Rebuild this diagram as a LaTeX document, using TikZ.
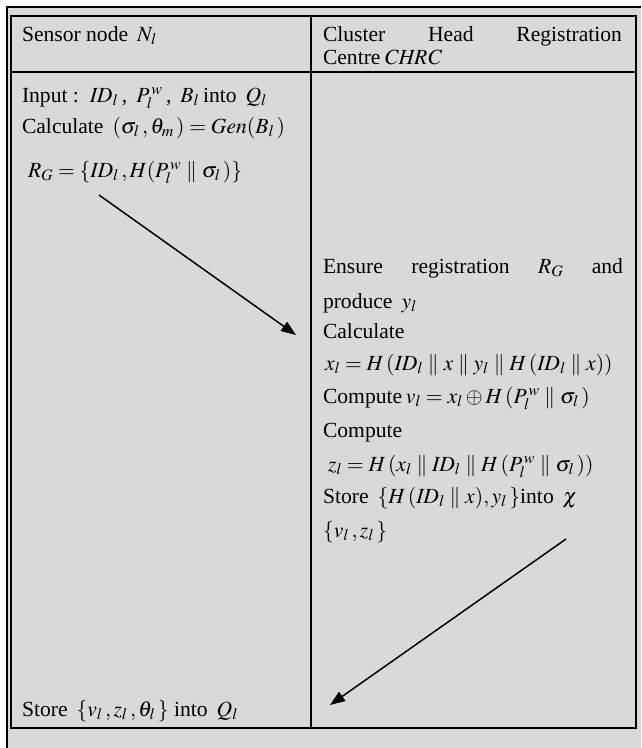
\documentclass[tikz,border=0pt]{standalone}
\usepackage{mathptmx}
\usepackage{fontspec}
\setmainfont{Liberation Serif}
\usetikzlibrary{arrows.meta, positioning}
\definecolor{cellgray}{HTML}{D9D9D9}
\definecolor{framegray}{HTML}{000000}

\begin{document}
\begin{tikzpicture}[
    x=1pt, y=-1pt,
    >=Stealth,
    frame/.style={draw=framegray, line width=1.6pt},
    line/.style={anchor=base west, inner sep=0pt, outer sep=0pt, font=\fontsize{21.6}{26}\selectfont},
    arrow/.style={-{Triangle[length=15pt, width=11pt]}, line width=1.5pt, shorten >=0pt},
]
\useasboundingbox (0,0) rectangle (641,748);

% Background and outer frame
\fill[cellgray] (7,7) rectangle (641,748);
\draw[frame] (641,7) -- (7,7) -- (7,748);

% Table
\draw[frame] (11,16) rectangle (636,728);
\draw[frame] (11,72) -- (636,72);
\draw[frame] (311,16) -- (311,728);

% Header row
\node[line] (hsensor) at (22,41) {Sensor node \,$N_l$};
\node[line] (hchrc1) at (323,41) {\makebox[299pt][s]{Cluster Head Registration}};
\node[line] (hchrc2) at (323,64) {Centre\,$\mathit{CHRC}$};

% Sensor node column
\node[line] (input) at (22,102) {Input : \,$\mathit{ID}_l$\,, \,$P_l^{\,w}$\,, \,$B_l$\,into \,$Q_l$};
\node[line] (calc) at (22,133) {Calculate \,$(\sigma_l\,,\theta_m\,)=\mathit{Gen}(B_l\,)$};
\node[line] (reg) at (28,177) {$R_G=\{\mathit{ID}_l\,,H(P_l^{\,w}\parallel\sigma_l\,)\}$};
\node[line] (store) at (22,716) {Store \,$\{v_l\,,z_l\,,\theta_l\,\}$ into \,$Q_l$};

% CHRC column
\node[line] (ensure) at (323,273) {\makebox[300pt][s]{Ensure registration $R_G$ and}};
\node[line] (produce) at (323,308) {produce \,$y_l$};
\node[line] (calcx) at (323,338) {Calculate};
\node[line] (xl) at (325,370) {$x_l=H\,(\mathit{ID}_l\parallel x\parallel y_l\parallel H\,(\mathit{ID}_l\parallel x))$};
\node[line] (vl) at (323,403) {Compute\,$v_l=x_l\oplus H\,(P_l^{\,w}\parallel\sigma_l\,)$};
\node[line] (compz) at (323,437) {Compute};
\node[line] (zl) at (328,471) {$z_l=H\,(x_l\parallel \mathit{ID}_l\parallel H\,(P_l^{\,w}\parallel\sigma_l\,))$};
\node[line] (storechi) at (323,503) {Store \,$\{H\,(\mathit{ID}_l\parallel x),y_l\,\}$into \,$\chi$};
\node[line] (vz) at (323,537) {$\{v_l\,,z_l\,\}$};

% Message arrows
\coordinate (sendA) at (99,195);
\coordinate (recvA) at (296,335);
\coordinate (sendB) at (566,539);
\coordinate (recvB) at (330,705);
\draw[arrow] (sendA) -- (recvA);
\draw[arrow] (sendB) -- (recvB);

\end{tikzpicture}
\end{document}
